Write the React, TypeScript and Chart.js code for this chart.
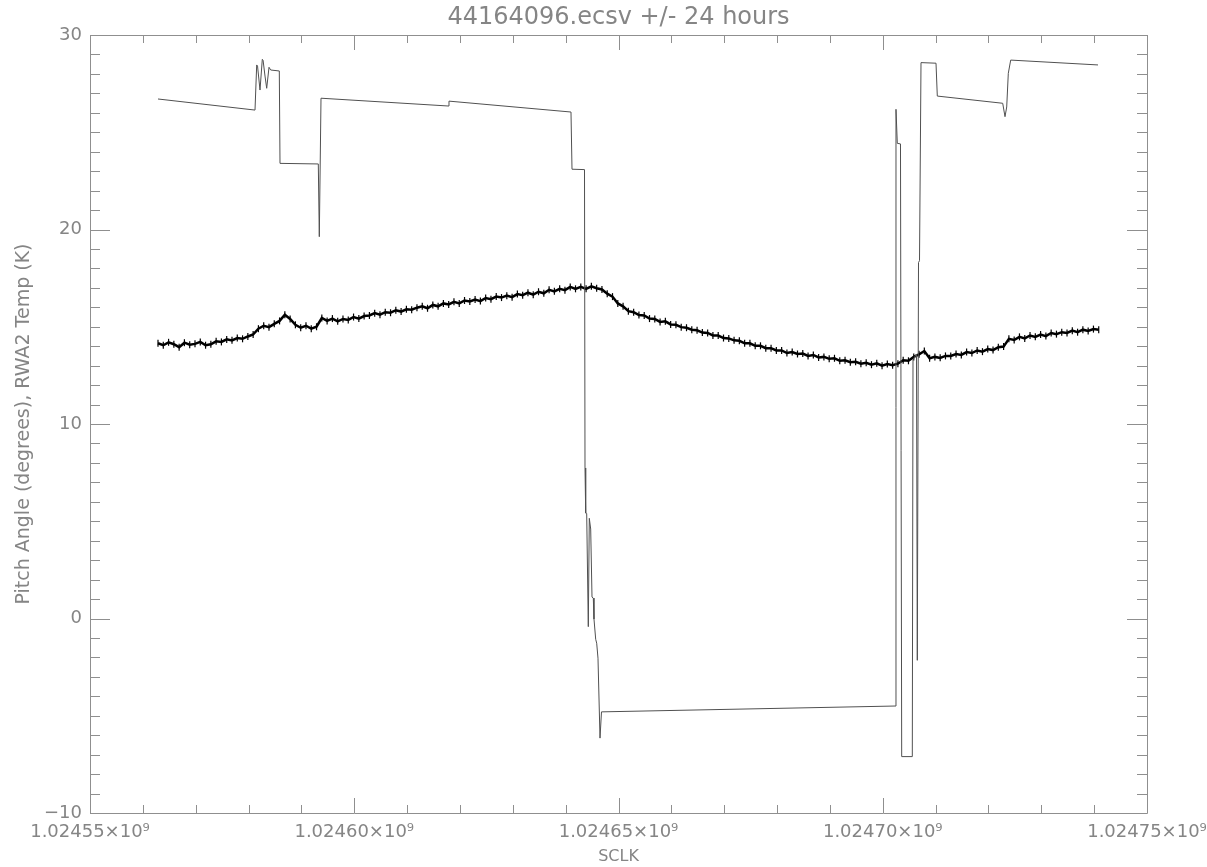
import React, { useEffect, useRef } from "react";
import { Chart, registerables } from "chart.js";

Chart.register(...registerables);

const TITLE = "44164096.ecsv +/- 24 hours";
const X_TITLE = "SCLK";
const Y_TITLE = "Pitch Angle (degrees), RWA2 Temp (K)";

const X_MIN = 1024550000;
const X_MAX = 1024750000;
const X_MINOR_STEP = 10000;
const X_MAJOR_STEP = 50000;
const Y_MIN = -10;
const Y_MAX = 30;
const Y_MINOR_STEP = 1;
const Y_MAJOR_STEP = 10;

// Pitch angle (degrees): SCLK vs value
const pitchTime = [
  1024562867, 1024581221, 1024581542, 1024581700, 1024582167, 1024582602, 1024582750,
  1024583113, 1024583434, 1024583870, 1024584191, 1024585818, 1024585951, 1024593198,
  1024593387, 1024593709, 1024617739, 1024617928, 1024641012, 1024641202, 1024643567,
  1024643662, 1024643794, 1024643983, 1024644286, 1024644475, 1024644740, 1024644986,
  1024645232, 1024645364, 1024645686, 1024645875, 1024646121, 1024646500, 1024646783,
  1024702318, 1024702507, 1024702753, 1024703358, 1024703586, 1024705591, 1024705724,
  1024706386, 1024706538, 1024706765, 1024706954, 1024707238, 1024710076, 1024710322,
  1024722697, 1024723132, 1024723454, 1024723756, 1024724210, 1024740729,
];
const pitchValue = [
  26.71, 26.14, 28.46, 28.4, 27.17, 28.75, 28.7,
  27.89, 27.26, 28.34, 28.2, 28.15, 23.4, 23.37,
  19.63, 26.75, 26.35, 26.6, 26.04, 23.1, 23.08,
  7.74, 5.42, 5.4, -0.42, 5.15, 4.6, 1.1,
  1.05, -0.03, -1.07, -1.27, -2.04, -6.15, -4.8,
  -4.5, 26.18, 24.43, 24.4, -7.1, -7.1, 13.3,
  13.6, -2.15, 18.3, 18.4, 28.58, 28.55, 26.86,
  26.49, 25.8, 26.3, 28.03, 28.71, 28.46,
];

// RWA2 temperature (K): sampled every TEMP_STEP seconds from TEMP_START
const TEMP_START = 1024562867;
const TEMP_STEP = 1000;
const tempValue = [
  14.15, 14.05, 14.2, 14.1, 13.95, 14.18, 14.08, 14.12, 14.22, 14.05,
  14.1, 14.25, 14.22, 14.35, 14.3, 14.42, 14.38, 14.5, 14.6, 14.9,
  15.05, 14.98, 15.15, 15.3, 15.62, 15.4, 15.1, 14.95, 15.05, 14.9,
  15.0, 15.45, 15.3, 15.42, 15.28, 15.4, 15.35, 15.5, 15.42, 15.55,
  15.58, 15.7, 15.62, 15.75, 15.72, 15.85, 15.78, 15.9, 15.88, 15.98,
  16.05, 15.95, 16.12, 16.05, 16.2, 16.15, 16.28, 16.2, 16.35, 16.3,
  16.4, 16.32, 16.48, 16.42, 16.55, 16.5, 16.6, 16.52, 16.68, 16.62,
  16.75, 16.65, 16.8, 16.72, 16.9, 16.82, 16.95, 16.88, 17.05, 16.95,
  17.05, 16.95, 17.08, 16.98, 16.92, 16.7, 16.55, 16.2, 16.05, 15.8,
  15.75, 15.6, 15.58, 15.42, 15.4, 15.25, 15.28, 15.12, 15.1, 14.98,
  14.95, 14.85, 14.82, 14.7, 14.68, 14.55, 14.55, 14.42, 14.4, 14.3,
  14.28, 14.15, 14.15, 14.02, 14.02, 13.9, 13.9, 13.78, 13.78, 13.65,
  13.7, 13.6, 13.62, 13.5, 13.55, 13.42, 13.45, 13.35, 13.38, 13.25,
  13.28, 13.18, 13.2, 13.1, 13.15, 13.05, 13.12, 13.0, 13.08, 13.02,
  13.1, 13.28, 13.25, 13.45, 13.58, 13.75, 13.38, 13.45, 13.4, 13.5,
  13.5, 13.6, 13.55, 13.7, 13.65, 13.78, 13.72, 13.85, 13.8, 13.95,
  13.98, 14.38, 14.32, 14.48, 14.4, 14.55, 14.48, 14.6, 14.52, 14.68,
  14.62, 14.72, 14.68, 14.8, 14.72, 14.85, 14.78, 14.88, 14.85,
];

const TEXT_COLOR = "#858585";
const AXIS_COLOR = "#8f8f8f";
const FONT = "'DejaVu Sans', sans-serif";

const frameTicks = {
  id: "frameTicks",
  afterDatasetsDraw(chart: any) {
    const { ctx, chartArea, scales } = chart;
    const { left, right, top, bottom } = chartArea;
    const xs = scales.x;
    const ys = scales.y;
    ctx.save();
    ctx.strokeStyle = AXIS_COLOR;
    ctx.lineWidth = 1;
    ctx.beginPath();
    ctx.rect(Math.round(left) + 0.5, Math.round(top) + 0.5, Math.round(right - left), Math.round(bottom - top));
    for (const t of xs.ticks) {
      const px = Math.round(xs.getPixelForValue(t.value)) + 0.5;
      const len = t.value % X_MAJOR_STEP === 0 ? 15 : 8;
      ctx.moveTo(px, bottom);
      ctx.lineTo(px, bottom - len);
      ctx.moveTo(px, top);
      ctx.lineTo(px, top + len);
    }
    for (const t of ys.ticks) {
      const py = Math.round(ys.getPixelForValue(t.value)) + 0.5;
      const len = t.value % Y_MAJOR_STEP === 0 ? 20 : 10;
      ctx.moveTo(left, py);
      ctx.lineTo(left + len, py);
      ctx.moveTo(right, py);
      ctx.lineTo(right - len, py);
    }
    ctx.stroke();
    ctx.restore();
  },
};

export default function App() {
  const canvasRef = useRef<HTMLCanvasElement | null>(null);

  useEffect(() => {
    const canvas = canvasRef.current;
    if (!canvas) return;
    const pitchData = pitchTime.map((t, i) => ({ x: t, y: pitchValue[i] }));
    const tempData = tempValue.map((v, i) => ({ x: TEMP_START + i * TEMP_STEP, y: v }));

    const chart = new Chart(canvas, {
      type: "line",
      data: {
        datasets: [
          {
            label: "Pitch Angle",
            data: pitchData,
            borderColor: "#505050",
            borderWidth: 1,
            pointRadius: 0,
            tension: 0,
          },
          {
            label: "RWA2 Temp",
            data: tempData,
            borderColor: "#000000",
            borderWidth: 2.5,
            pointStyle: "line",
            rotation: 90,
            pointRadius: 3.5,
            pointBorderWidth: 1.2,
            pointBorderColor: "#000000",
            pointBackgroundColor: "#000000",
            tension: 0,
          },
        ],
      },
      options: {
        responsive: false,
        animation: false,
        devicePixelRatio: 1,
        layout: { padding: { left: 0, right: 60, top: 0, bottom: 0 } },
        plugins: {
          legend: { display: false },
          tooltip: { enabled: false },
          title: {
            display: true,
            text: TITLE,
            fullSize: false,
            color: TEXT_COLOR,
            font: { family: FONT, size: 24, weight: "normal", lineHeight: 1.2 },
            padding: { top: 3, bottom: 3.2 },
          },
        },
        scales: {
          x: {
            type: "linear",
            min: X_MIN,
            max: X_MAX,
            grid: { display: false, drawTicks: false },
            border: { display: false },
            afterFit: (s: any) => {
              s.height = 54;
              s.paddingLeft = 0;
              s.paddingRight = 0;
            },
            ticks: {
              stepSize: X_MINOR_STEP,
              autoSkip: false,
              maxRotation: 0,
              padding: 9,
              color: TEXT_COLOR,
              font: { family: FONT, size: 18 },
              callback: (v: any) => {
                const n = Number(v);
                if (n % X_MAJOR_STEP !== 0) return "";
                return (n / 1e9).toFixed(5) + "×10⁹";
              },
            },
            title: {
              display: true,
              text: X_TITLE,
              color: TEXT_COLOR,
              font: { family: FONT, size: 16 },
              padding: { top: 0, bottom: 1 },
            },
          },
          y: {
            type: "linear",
            min: Y_MIN,
            max: Y_MAX,
            grid: { display: false, drawTicks: false },
            border: { display: false },
            afterFit: (s: any) => {
              s.width = 90;
              s.paddingTop = 0;
              s.paddingBottom = 0;
            },
            ticks: {
              stepSize: Y_MINOR_STEP,
              autoSkip: false,
              padding: 8,
              color: TEXT_COLOR,
              font: { family: FONT, size: 18 },
              callback: (v: any) => {
                const n = Number(v);
                if (n % Y_MAJOR_STEP !== 0) return "";
                return n < 0 ? "\u2212" + Math.abs(n) : String(n);
              },
            },
            title: {
              display: true,
              text: Y_TITLE,
              color: TEXT_COLOR,
              font: { family: FONT, size: 19 },
              padding: { top: 13, bottom: 0 },
            },
          },
        },
      },
      plugins: [frameTicks],
    });
    return () => chart.destroy();
  }, []);

  return (
    <div style={{ position: "absolute", left: 0, top: 0, width: 1207, height: 867, background: "#fff" }}>
      <canvas ref={canvasRef} width={1207} height={867} />
    </div>
  );
}
